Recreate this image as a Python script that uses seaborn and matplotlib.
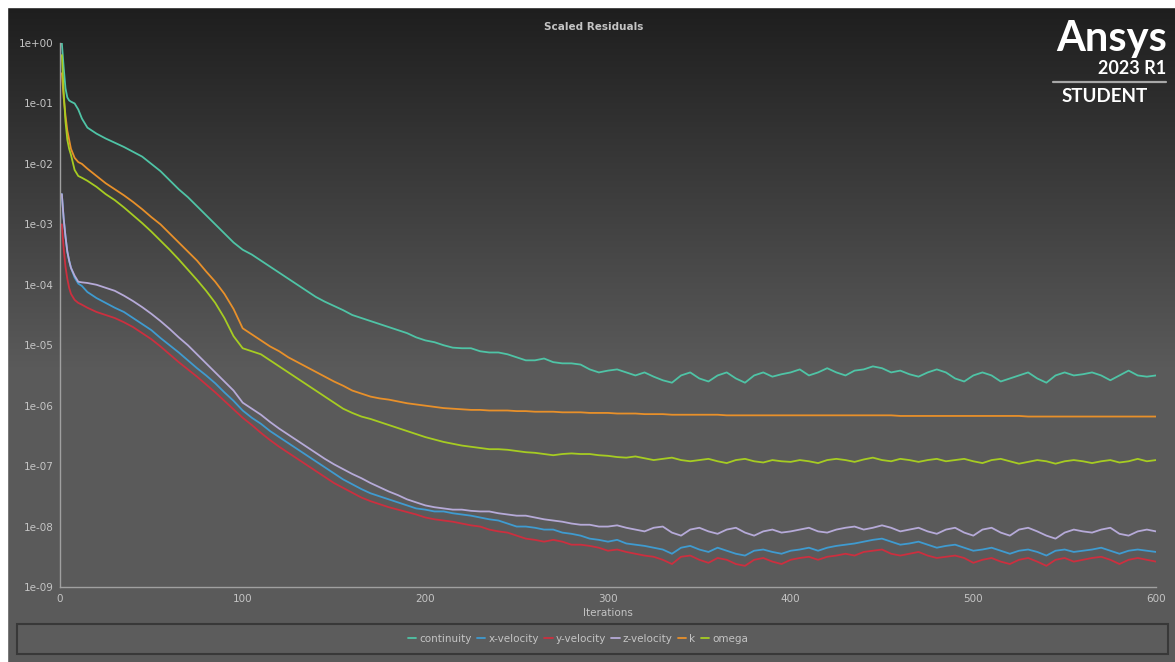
"""Scaled residuals plot, styled like an Ansys Fluent residual monitor."""
import numpy as np
import pandas as pd
import matplotlib
matplotlib.use("Agg")
import matplotlib.pyplot as plt
from matplotlib.patches import Rectangle
from matplotlib.lines import Line2D
from matplotlib.ticker import FixedLocator, FuncFormatter, NullLocator
import seaborn as sns

iterations = [1, 2, 3, 4, 5, 6, 8, 10, 12, 15] + list(range(20, 601, 5))

# log10 of the scaled residuals
continuity_log = [
    0.0, -0.4, -0.75, -0.9, -0.95, -0.97, -1.0, -1.1, -1.25, -1.4,
    -1.5, -1.58, -1.65, -1.72, -1.8, -1.88, -2.0, -2.12, -2.27, -2.42,
    -2.55, -2.7, -2.85, -3.0, -3.15, -3.3, -3.42, -3.5, -3.6, -3.7,
    -3.8, -3.9, -4.0, -4.1, -4.2, -4.28, -4.35, -4.42, -4.5, -4.55,
    -4.6, -4.65, -4.7, -4.75, -4.8, -4.87, -4.92, -4.95, -5.0, -5.04,
    -5.05, -5.05, -5.1, -5.12, -5.12, -5.15, -5.2, -5.25, -5.25, -5.22,
    -5.28, -5.3, -5.3, -5.32, -5.4, -5.45, -5.42, -5.4, -5.45, -5.5,
    -5.45, -5.52, -5.58, -5.62, -5.5, -5.45, -5.55, -5.6, -5.5, -5.45,
    -5.55, -5.62, -5.5, -5.45, -5.52, -5.48, -5.45, -5.4, -5.5, -5.45,
    -5.38, -5.45, -5.5, -5.42, -5.4, -5.35, -5.38, -5.45, -5.42, -5.48,
    -5.52, -5.45, -5.4, -5.45, -5.55, -5.6, -5.5, -5.45, -5.5, -5.6,
    -5.55, -5.5, -5.45, -5.55, -5.62, -5.5, -5.45, -5.5, -5.48, -5.45,
    -5.5, -5.58, -5.5, -5.42, -5.5, -5.52, -5.5,
]
x_velocity_log = [
    -2.5, -2.9, -3.2, -3.45, -3.6, -3.72, -3.88, -3.98, -4.02, -4.12,
    -4.22, -4.3, -4.38, -4.45, -4.55, -4.65, -4.75, -4.88, -5.0, -5.12,
    -5.25, -5.38, -5.5, -5.63, -5.78, -5.92, -6.08, -6.2, -6.3, -6.42,
    -6.52, -6.62, -6.72, -6.82, -6.92, -7.02, -7.12, -7.22, -7.3, -7.38,
    -7.45, -7.5, -7.55, -7.6, -7.65, -7.7, -7.72, -7.75, -7.75, -7.78,
    -7.8, -7.82, -7.85, -7.88, -7.9, -7.95, -8.0, -8.0, -8.02, -8.05,
    -8.05, -8.1, -8.12, -8.15, -8.2, -8.22, -8.25, -8.22, -8.28, -8.3,
    -8.32, -8.35, -8.38, -8.45, -8.35, -8.32, -8.38, -8.42, -8.35, -8.4,
    -8.45, -8.48, -8.4, -8.38, -8.42, -8.45, -8.4, -8.38, -8.35, -8.4,
    -8.35, -8.32, -8.3, -8.28, -8.25, -8.22, -8.2, -8.25, -8.3, -8.28,
    -8.25, -8.3, -8.35, -8.32, -8.3, -8.35, -8.4, -8.38, -8.35, -8.4,
    -8.45, -8.4, -8.38, -8.42, -8.48, -8.4, -8.38, -8.42, -8.4, -8.38,
    -8.35, -8.4, -8.45, -8.4, -8.38, -8.4, -8.42,
]
y_velocity_log = [
    -3.0, -3.4, -3.7, -3.9, -4.05, -4.15, -4.25, -4.3, -4.33, -4.38,
    -4.45, -4.5, -4.55, -4.62, -4.7, -4.8, -4.9, -5.02, -5.15, -5.28,
    -5.4, -5.52, -5.65, -5.78, -5.92, -6.06, -6.2, -6.32, -6.45, -6.57,
    -6.68, -6.78, -6.88, -6.98, -7.08, -7.18, -7.28, -7.36, -7.44, -7.52,
    -7.58, -7.63, -7.68, -7.72, -7.76, -7.8, -7.85, -7.88, -7.9, -7.92,
    -7.95, -7.98, -8.0, -8.05, -8.08, -8.1, -8.15, -8.2, -8.22, -8.25,
    -8.22, -8.25, -8.3, -8.3, -8.32, -8.35, -8.4, -8.38, -8.42, -8.45,
    -8.48, -8.5, -8.55, -8.62, -8.5, -8.48, -8.55, -8.6, -8.52, -8.55,
    -8.62, -8.65, -8.55, -8.52, -8.58, -8.62, -8.55, -8.52, -8.5, -8.55,
    -8.5, -8.48, -8.45, -8.48, -8.42, -8.4, -8.38, -8.45, -8.48, -8.45,
    -8.42, -8.48, -8.52, -8.5, -8.48, -8.52, -8.6, -8.55, -8.52, -8.58,
    -8.62, -8.55, -8.52, -8.58, -8.65, -8.55, -8.52, -8.58, -8.55, -8.52,
    -8.5, -8.55, -8.62, -8.55, -8.52, -8.55, -8.58,
]
z_velocity_log = [
    -2.5, -2.9, -3.2, -3.45, -3.6, -3.72, -3.85, -3.95, -3.96, -3.97,
    -4.0, -4.05, -4.1, -4.18, -4.27, -4.37, -4.48, -4.6, -4.73, -4.87,
    -5.0, -5.15, -5.3, -5.45, -5.6, -5.75, -5.95, -6.05, -6.15, -6.27,
    -6.38, -6.48, -6.58, -6.68, -6.78, -6.88, -6.97, -7.05, -7.13, -7.2,
    -7.28, -7.35, -7.42, -7.48, -7.55, -7.6, -7.65, -7.68, -7.7, -7.72,
    -7.72, -7.74, -7.75, -7.75, -7.78, -7.8, -7.82, -7.82, -7.85, -7.88,
    -7.9, -7.92, -7.95, -7.97, -7.97, -8.0, -8.0, -7.98, -8.02, -8.05,
    -8.08, -8.02, -8.0, -8.1, -8.15, -8.05, -8.02, -8.08, -8.12, -8.05,
    -8.02, -8.1, -8.15, -8.08, -8.05, -8.1, -8.08, -8.05, -8.02, -8.08,
    -8.1, -8.05, -8.02, -8.0, -8.05, -8.02, -7.98, -8.02, -8.08, -8.05,
    -8.02, -8.08, -8.12, -8.05, -8.02, -8.1, -8.15, -8.05, -8.02, -8.1,
    -8.15, -8.05, -8.02, -8.08, -8.15, -8.2, -8.1, -8.05, -8.08, -8.1,
    -8.05, -8.02, -8.12, -8.15, -8.08, -8.05, -8.08,
]
k_log = [
    -0.5, -0.9, -1.2, -1.45, -1.6, -1.75, -1.9, -1.97, -2.0, -2.08,
    -2.2, -2.32, -2.42, -2.52, -2.63, -2.75, -2.88, -3.0, -3.15, -3.3,
    -3.45, -3.6, -3.78, -3.95, -4.15, -4.4, -4.72, -4.82, -4.92, -5.02,
    -5.1, -5.2, -5.28, -5.36, -5.44, -5.52, -5.6, -5.67, -5.75, -5.8,
    -5.85, -5.88, -5.9, -5.93, -5.96, -5.98, -6.0, -6.02, -6.04, -6.05,
    -6.06, -6.07, -6.07, -6.08, -6.08, -6.08, -6.09, -6.09, -6.1, -6.1,
    -6.1, -6.11, -6.11, -6.11, -6.12, -6.12, -6.12, -6.13, -6.13, -6.13,
    -6.14, -6.14, -6.14, -6.15, -6.15, -6.15, -6.15, -6.15, -6.15, -6.16,
    -6.16, -6.16, -6.16, -6.16, -6.16, -6.16, -6.16, -6.16, -6.16, -6.16,
    -6.16, -6.16, -6.16, -6.16, -6.16, -6.16, -6.16, -6.16, -6.17, -6.17,
    -6.17, -6.17, -6.17, -6.17, -6.17, -6.17, -6.17, -6.17, -6.17, -6.17,
    -6.17, -6.17, -6.18, -6.18, -6.18, -6.18, -6.18, -6.18, -6.18, -6.18,
    -6.18, -6.18, -6.18, -6.18, -6.18, -6.18, -6.18,
]
omega_log = [
    -0.2, -0.8, -1.3, -1.6, -1.75, -1.85, -2.1, -2.2, -2.23, -2.28,
    -2.38, -2.5, -2.6, -2.72, -2.85, -2.98, -3.12, -3.27, -3.42, -3.58,
    -3.75, -3.92, -4.1, -4.3, -4.55, -4.85, -5.05, -5.1, -5.15, -5.25,
    -5.35, -5.45, -5.55, -5.65, -5.75, -5.85, -5.95, -6.05, -6.12, -6.18,
    -6.22, -6.27, -6.32, -6.37, -6.42, -6.47, -6.52, -6.56, -6.6, -6.63,
    -6.66, -6.68, -6.7, -6.72, -6.72, -6.73, -6.75, -6.77, -6.78, -6.8,
    -6.82, -6.8, -6.79, -6.8, -6.8, -6.82, -6.83, -6.85, -6.86, -6.84,
    -6.87, -6.9, -6.88, -6.86, -6.9, -6.92, -6.9, -6.88, -6.92, -6.95,
    -6.9, -6.88, -6.92, -6.94, -6.9, -6.92, -6.93, -6.9, -6.92, -6.95,
    -6.9, -6.88, -6.9, -6.93, -6.89, -6.86, -6.9, -6.92, -6.88, -6.9,
    -6.93, -6.9, -6.88, -6.92, -6.9, -6.88, -6.92, -6.95, -6.9, -6.88,
    -6.92, -6.96, -6.93, -6.9, -6.92, -6.96, -6.92, -6.9, -6.92, -6.95,
    -6.92, -6.9, -6.94, -6.92, -6.88, -6.92, -6.9,
]

series_names = ["continuity", "x-velocity", "y-velocity", "z-velocity", "k", "omega"]
series_colors = ["#4fc4a6", "#3f9bd0", "#cc2f3f", "#b6aad8", "#e8902a", "#a6cc22"]
y_ticks = [1e0, 1e-1, 1e-2, 1e-3, 1e-4, 1e-5, 1e-6, 1e-7, 1e-8, 1e-9]
x_ticks = [0, 100, 200, 300, 400, 500, 600]

W, H = 1175, 662
TEXT = "#c4c4c4"
AXIS = "#a0a0a0"

sns.set_theme(style="dark", rc={"axes.facecolor": "none"})
plt.rcParams["font.family"] = ["DejaVu Sans"]

df = pd.DataFrame({"iteration": iterations})
for name, vals in zip(series_names, [continuity_log, x_velocity_log, y_velocity_log,
                                     z_velocity_log, k_log, omega_log]):
    df[name] = 10.0 ** np.asarray(vals)
long_df = df.melt(id_vars="iteration", var_name="series", value_name="residual")

fig = plt.figure(figsize=(W / 100, H / 100), dpi=100)

# background gradient: dark at top, flat grey from the middle down
bg = fig.add_axes([0, 0, 1, 1], zorder=-10)
rows = np.arange(H)
shade = np.clip((rows - 7) / 360.0, 0, 1)
top_c = np.array([0x1e, 0x1e, 0x1e]) / 255
bot_c = np.array([0x5a, 0x5a, 0x5a]) / 255
grad = top_c[None, :] + shade[:, None] * (bot_c - top_c)[None, :]
bg.imshow(grad[:, None, :], aspect="auto", extent=[0, 1, 0, 1], origin="upper")
bg.set_axis_off()

# white margins along top and left
fig.patches.append(Rectangle((0, 1 - 7 / H), 1, 7 / H, transform=fig.transFigure,
                             color="white", zorder=5))
fig.patches.append(Rectangle((0, 0), 7 / W, 1, transform=fig.transFigure,
                             color="white", zorder=5))

ax = fig.add_axes([60 / W, 1 - 587 / H, (1156 - 60) / W, (587 - 43) / H])
ax.set_facecolor("none")
sns.lineplot(data=long_df, x="iteration", y="residual", hue="series",
             hue_order=series_names, palette=series_colors, estimator=None,
             linewidth=1.3, ax=ax, legend=False)

ax.set_yscale("log")
ax.set_ylim(1e-9, 1e0)
ax.set_xlim(0, 600)
ax.yaxis.set_major_locator(FixedLocator(y_ticks))
ax.yaxis.set_minor_locator(NullLocator())
ax.yaxis.set_major_formatter(FuncFormatter(lambda v, p: f"{v:.0e}"))
ax.xaxis.set_major_locator(FixedLocator(x_ticks))
ax.set_xlabel("Iterations", color=TEXT, fontsize=7.5, labelpad=3)
ax.set_ylabel("")
ax.tick_params(axis="both", colors=AXIS, labelcolor=TEXT, labelsize=7.5,
               length=3, width=0.8, direction="out", pad=1.5)
ax.tick_params(axis="x", pad=2)
for side in ("top", "right"):
    ax.spines[side].set_visible(False)
for side in ("left", "bottom"):
    ax.spines[side].set_color(AXIS)
    ax.spines[side].set_linewidth(1.0)
ax.grid(False)

fig.text(594 / W, 1 - 27 / H, "Scaled Residuals", ha="center", va="center",
         color=TEXT, fontsize=7.5, fontweight="bold")

# legend strip at the bottom
fig.patches.append(Rectangle((17 / W, 1 - 654 / H), (1168 - 17) / W, 30 / H,
                             transform=fig.transFigure, facecolor="#5c5c5c",
                             edgecolor="#383838", linewidth=1.5, zorder=1))
handles = [Line2D([], [], color=c, linewidth=1.3) for c in series_colors]
fig.legend(handles, series_names, loc="center", bbox_to_anchor=(578 / W, 1 - 639 / H),
           ncol=6, frameon=False, fontsize=7.5, labelcolor=TEXT, handlelength=0.8,
           handletextpad=0.3, columnspacing=0.5)

# Ansys student watermark
logo = ["Lato", "DejaVu Sans"]
fig.text(1167 / W, 1 - 39 / H, "Ansys", ha="right", va="center", color="white",
         fontsize=30, fontweight="bold", family=logo)
fig.text(1166 / W, 1 - 69 / H, "2023 R1", ha="right", va="center", color="white",
         fontsize=13, fontweight="bold", family=logo)
fig.add_artist(Line2D([1053 / W, 1166 / W], [1 - 82 / H, 1 - 82 / H],
                      color="#a8a8a8", linewidth=1.6, transform=fig.transFigure))
fig.text(1062 / W, 1 - 97 / H, "STUDENT", ha="left", va="center", color="white",
         fontsize=13.5, fontweight="bold", family=logo)

fig.savefig("out.png", dpi=100)
